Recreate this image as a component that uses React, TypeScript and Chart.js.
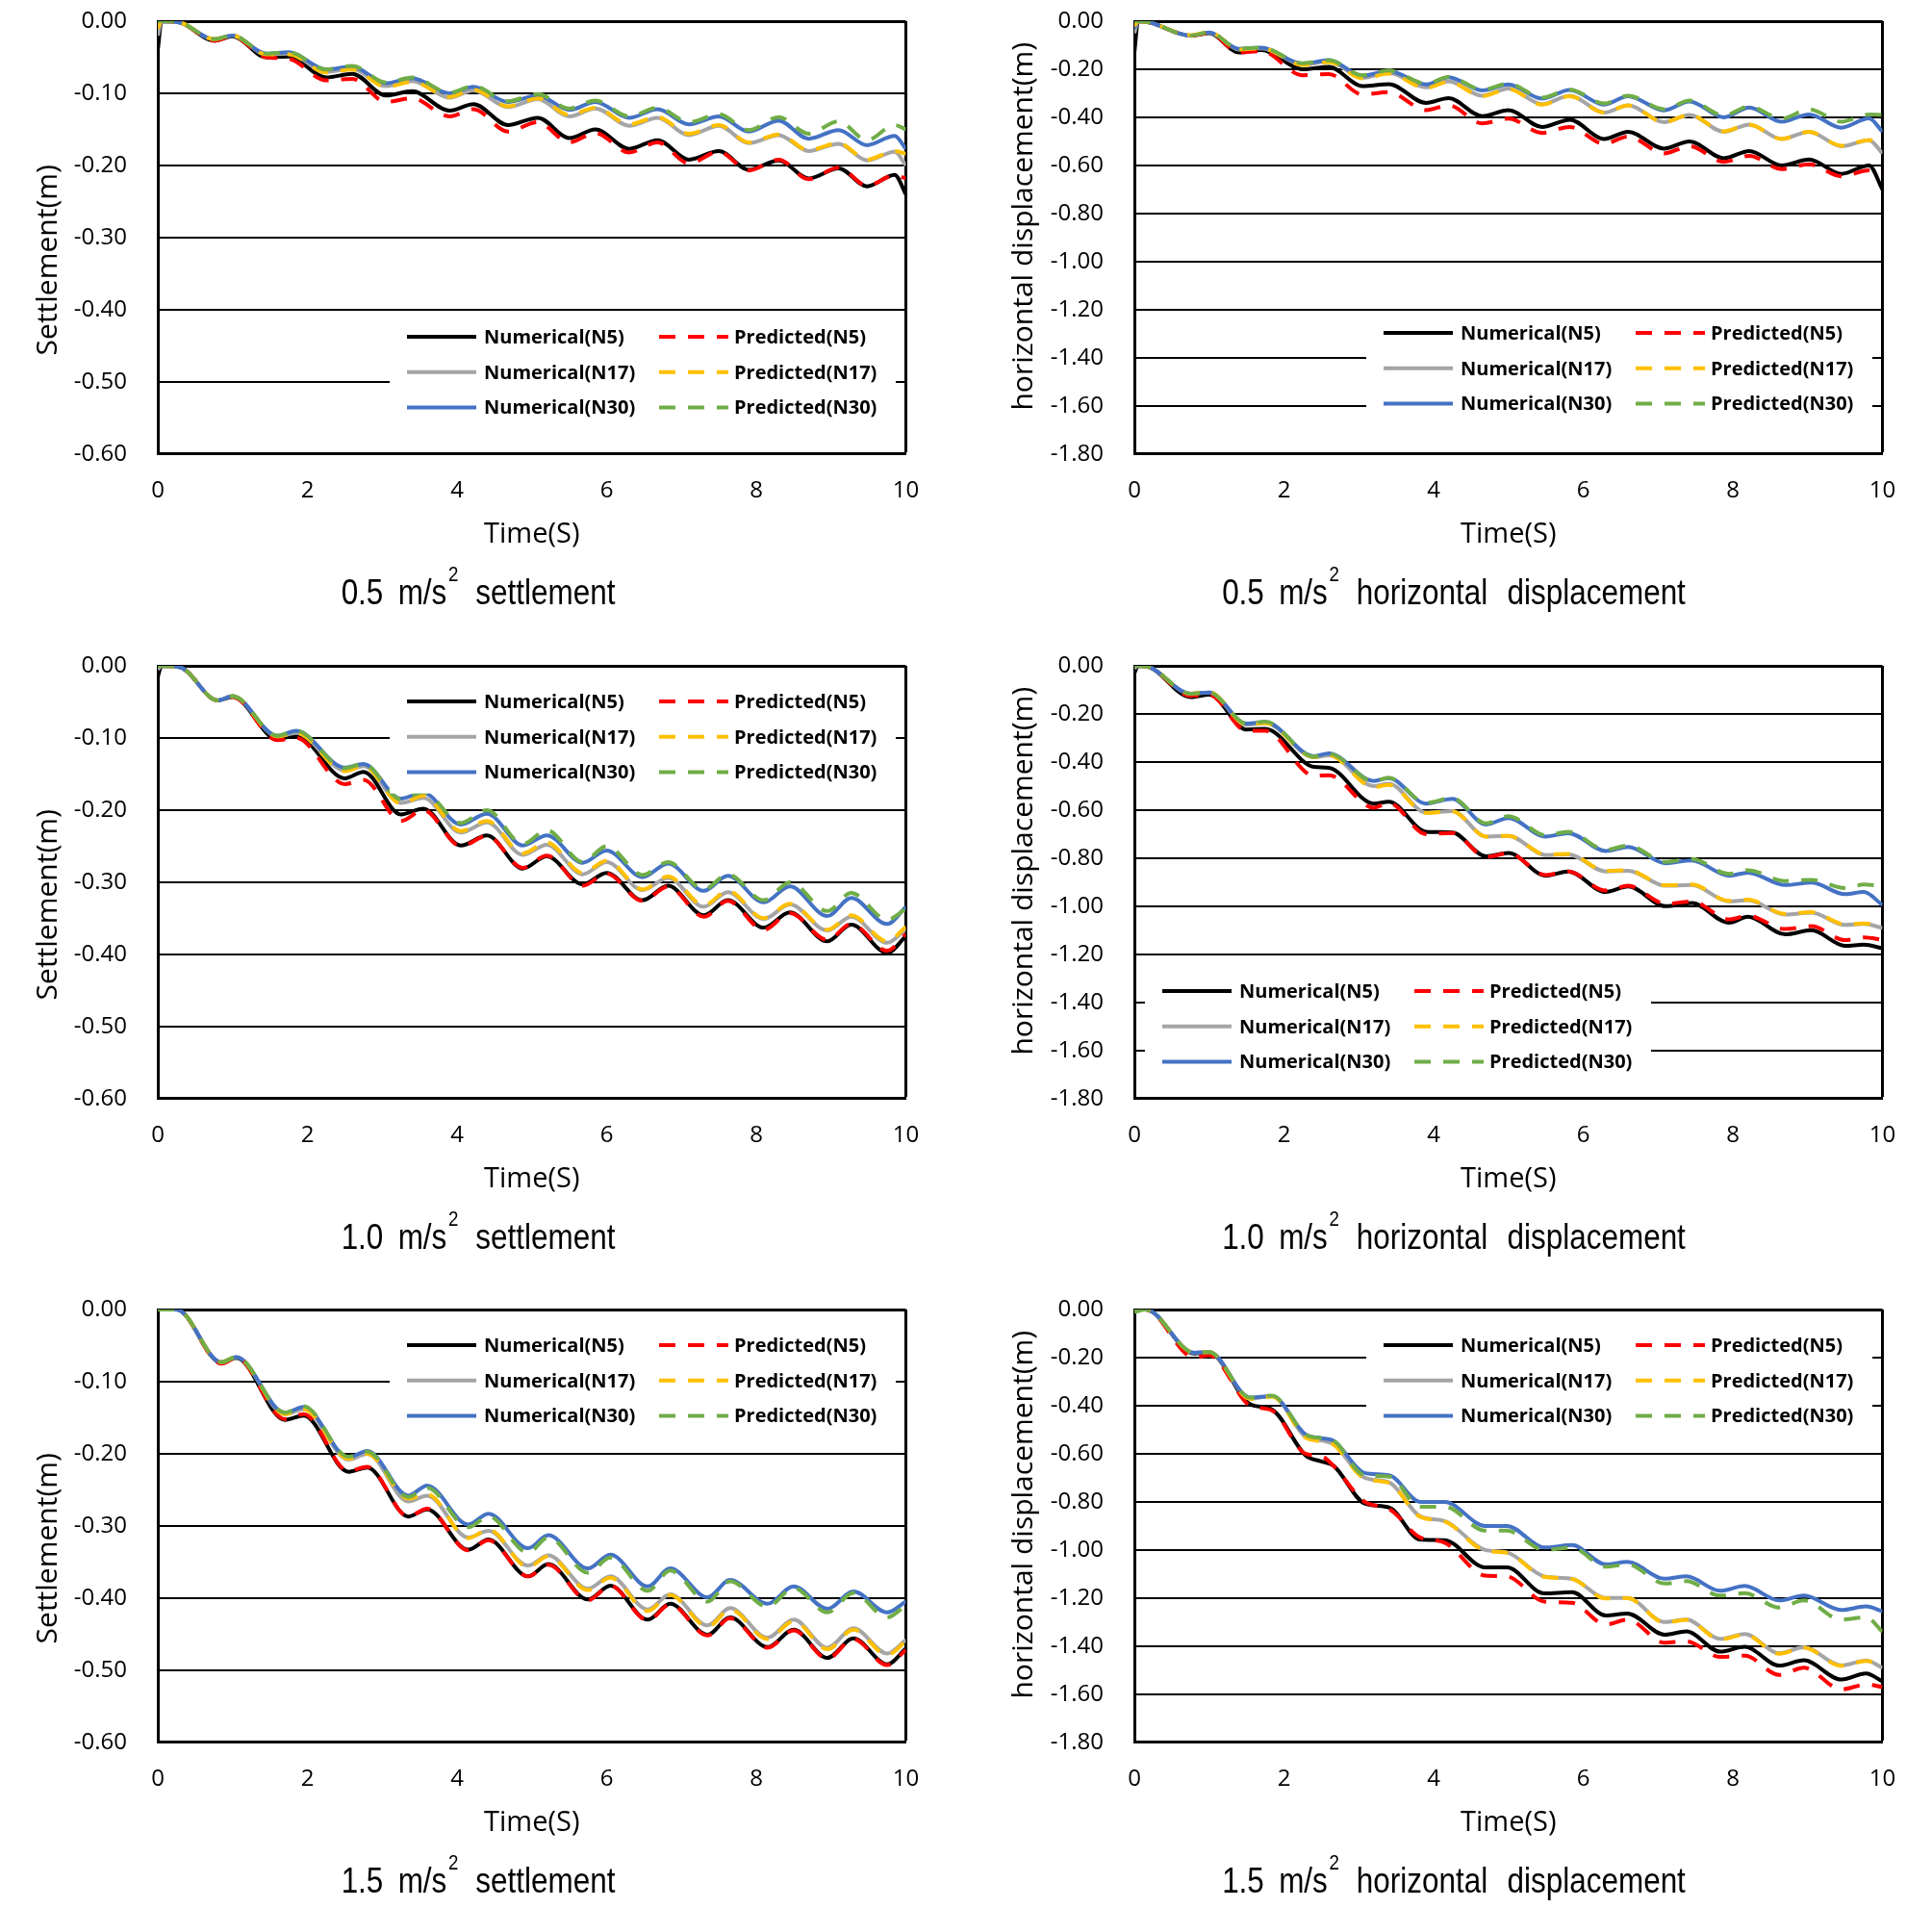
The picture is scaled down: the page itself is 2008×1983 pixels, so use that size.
import React, { useEffect, useRef } from 'react';
import { Chart, registerables } from 'chart.js';

Chart.register(...registerables);

// ---------------- DATA ----------------
// Panel 1 : 0.5 m/s2 settlement
const t1 = [0, 0.05, 0.3, 0.75, 1.0, 1.45, 1.75, 2.25, 2.6, 3.05, 3.4, 3.9, 4.22, 4.68, 5.08, 5.5, 5.85, 6.3, 6.68, 7.1, 7.5, 7.9, 8.3, 8.7, 9.1, 9.48, 9.85, 10];
const n5_1 = [-0.04, 0, -0.002, -0.027, -0.021, -0.05, -0.049, -0.078, -0.073, -0.103, -0.097, -0.124, -0.115, -0.144, -0.134, -0.162, -0.15, -0.177, -0.165, -0.192, -0.18, -0.206, -0.193, -0.218, -0.204, -0.229, -0.213, -0.24];
const n17_1 = [-0.02, 0, -0.002, -0.025, -0.02, -0.046, -0.045, -0.07, -0.066, -0.09, -0.083, -0.106, -0.096, -0.119, -0.108, -0.132, -0.121, -0.145, -0.134, -0.158, -0.145, -0.169, -0.158, -0.18, -0.17, -0.193, -0.181, -0.2];
const n30_1 = [-0.01, 0, -0.002, -0.025, -0.02, -0.045, -0.043, -0.067, -0.063, -0.086, -0.079, -0.1, -0.091, -0.112, -0.103, -0.123, -0.112, -0.134, -0.122, -0.143, -0.132, -0.153, -0.138, -0.163, -0.151, -0.172, -0.159, -0.177];
const p5_1 = [0, 0, -0.002, -0.027, -0.021, -0.05, -0.052, -0.082, -0.08, -0.112, -0.107, -0.132, -0.122, -0.153, -0.14, -0.168, -0.155, -0.182, -0.168, -0.197, -0.181, -0.207, -0.192, -0.219, -0.203, -0.228, -0.214, -0.218];
const p17_1 = [-0.01, 0, -0.002, -0.025, -0.02, -0.046, -0.046, -0.071, -0.067, -0.091, -0.084, -0.105, -0.095, -0.118, -0.107, -0.13, -0.12, -0.143, -0.133, -0.156, -0.144, -0.168, -0.157, -0.179, -0.169, -0.192, -0.18, -0.184];
const p30_1 = [0, 0, -0.002, -0.025, -0.02, -0.045, -0.043, -0.067, -0.062, -0.085, -0.078, -0.099, -0.09, -0.111, -0.101, -0.121, -0.11, -0.132, -0.12, -0.14, -0.129, -0.151, -0.133, -0.156, -0.139, -0.165, -0.144, -0.15];

// Panel 2 : 0.5 m/s2 horizontal displacement
const t2 = [0, 0.05, 0.2, 0.75, 1.0, 1.4, 1.7, 2.25, 2.6, 3.05, 3.4, 3.9, 4.2, 4.65, 5.0, 5.45, 5.82, 6.28, 6.6, 7.08, 7.42, 7.88, 8.22, 8.65, 9.02, 9.45, 9.82, 10];
const n5_2 = [-0.13, 0, -0.005, -0.06, -0.05, -0.13, -0.12, -0.2, -0.19, -0.27, -0.262, -0.34, -0.32, -0.395, -0.37, -0.44, -0.41, -0.49, -0.46, -0.53, -0.5, -0.57, -0.54, -0.6, -0.575, -0.635, -0.6, -0.7];
const n17_2 = [-0.05, 0, -0.005, -0.06, -0.048, -0.118, -0.113, -0.18, -0.168, -0.235, -0.215, -0.275, -0.25, -0.31, -0.28, -0.345, -0.31, -0.38, -0.35, -0.42, -0.39, -0.46, -0.43, -0.49, -0.46, -0.52, -0.495, -0.55];
const n30_2 = [-0.03, 0, -0.005, -0.06, -0.047, -0.115, -0.11, -0.177, -0.162, -0.227, -0.207, -0.263, -0.233, -0.288, -0.263, -0.322, -0.286, -0.347, -0.312, -0.371, -0.334, -0.4, -0.359, -0.418, -0.388, -0.443, -0.404, -0.46];
const p5_2 = [0, 0, -0.005, -0.06, -0.05, -0.13, -0.125, -0.225, -0.22, -0.305, -0.295, -0.37, -0.35, -0.425, -0.405, -0.465, -0.44, -0.51, -0.48, -0.55, -0.52, -0.585, -0.56, -0.615, -0.595, -0.645, -0.62, -0.62];
const p17_2 = [-0.02, 0, -0.005, -0.058, -0.045, -0.118, -0.113, -0.182, -0.17, -0.238, -0.218, -0.278, -0.252, -0.312, -0.282, -0.347, -0.312, -0.38, -0.35, -0.42, -0.39, -0.458, -0.43, -0.49, -0.46, -0.518, -0.495, -0.5];
const p30_2 = [0, 0, -0.005, -0.06, -0.047, -0.115, -0.11, -0.175, -0.162, -0.225, -0.205, -0.26, -0.232, -0.285, -0.26, -0.318, -0.285, -0.342, -0.31, -0.366, -0.33, -0.392, -0.355, -0.405, -0.367, -0.418, -0.388, -0.39];

// Panel 3 : 1.0 m/s2 settlement
const t3 = [0, 0.05, 0.3, 0.8, 1.0, 1.6, 1.85, 2.5, 2.75, 3.25, 3.55, 4.05, 4.4, 4.88, 5.2, 5.68, 6.0, 6.48, 6.82, 7.3, 7.62, 8.1, 8.45, 8.95, 9.27, 9.75, 10];
const n5_3 = [-0.015, 0, -0.002, -0.048, -0.043, -0.102, -0.096, -0.156, -0.147, -0.206, -0.198, -0.249, -0.235, -0.281, -0.264, -0.303, -0.287, -0.325, -0.305, -0.346, -0.325, -0.363, -0.342, -0.382, -0.359, -0.398, -0.375];
const n17_3 = [-0.005, 0, -0.002, -0.048, -0.042, -0.098, -0.093, -0.145, -0.139, -0.19, -0.183, -0.231, -0.217, -0.262, -0.248, -0.289, -0.272, -0.311, -0.294, -0.334, -0.314, -0.351, -0.331, -0.367, -0.348, -0.384, -0.365];
const n30_3 = [0, 0, -0.002, -0.048, -0.042, -0.097, -0.09, -0.141, -0.136, -0.184, -0.176, -0.22, -0.205, -0.249, -0.235, -0.273, -0.256, -0.293, -0.274, -0.312, -0.291, -0.328, -0.306, -0.347, -0.322, -0.358, -0.334];
const p5_3 = [0, 0, -0.002, -0.048, -0.043, -0.103, -0.1, -0.164, -0.158, -0.215, -0.2, -0.25, -0.236, -0.28, -0.263, -0.305, -0.288, -0.326, -0.306, -0.348, -0.326, -0.366, -0.343, -0.38, -0.358, -0.395, -0.372];
const p17_3 = [0, 0, -0.002, -0.048, -0.042, -0.098, -0.093, -0.146, -0.139, -0.191, -0.18, -0.229, -0.215, -0.26, -0.245, -0.287, -0.27, -0.31, -0.292, -0.332, -0.312, -0.35, -0.33, -0.366, -0.346, -0.382, -0.362];
const p30_3 = [0, 0, -0.002, -0.048, -0.042, -0.097, -0.09, -0.142, -0.136, -0.185, -0.175, -0.218, -0.2, -0.247, -0.228, -0.272, -0.25, -0.29, -0.272, -0.31, -0.289, -0.325, -0.3, -0.34, -0.315, -0.352, -0.337];

// Panel 4 : 1.0 m/s2 horizontal displacement
const t4 = [0, 0.05, 0.2, 0.75, 1.0, 1.5, 1.75, 2.4, 2.6, 3.2, 3.4, 3.9, 4.25, 4.7, 5.0, 5.5, 5.8, 6.3, 6.6, 7.1, 7.45, 7.95, 8.2, 8.7, 9.05, 9.5, 9.75, 10];
const n5_4 = [-0.03, 0, -0.005, -0.13, -0.12, -0.265, -0.262, -0.42, -0.424, -0.573, -0.565, -0.69, -0.693, -0.792, -0.778, -0.873, -0.855, -0.941, -0.918, -1.0, -0.987, -1.069, -1.044, -1.117, -1.1, -1.165, -1.16, -1.175];
const n17_4 = [-0.01, 0, -0.005, -0.116, -0.111, -0.245, -0.238, -0.38, -0.372, -0.5, -0.49, -0.61, -0.604, -0.71, -0.707, -0.787, -0.784, -0.855, -0.852, -0.915, -0.912, -0.98, -0.975, -1.035, -1.027, -1.078, -1.074, -1.09];
const n30_4 = [0, 0, -0.005, -0.116, -0.111, -0.24, -0.234, -0.376, -0.364, -0.479, -0.467, -0.573, -0.553, -0.66, -0.633, -0.71, -0.696, -0.77, -0.753, -0.821, -0.809, -0.873, -0.86, -0.912, -0.902, -0.95, -0.941, -0.995];
const p5_4 = [0, 0, -0.005, -0.125, -0.12, -0.27, -0.27, -0.457, -0.455, -0.59, -0.57, -0.7, -0.695, -0.795, -0.78, -0.87, -0.855, -0.935, -0.915, -0.99, -0.98, -1.055, -1.04, -1.095, -1.083, -1.141, -1.13, -1.14];
const p17_4 = [0, 0, -0.005, -0.116, -0.108, -0.245, -0.238, -0.38, -0.372, -0.505, -0.495, -0.612, -0.605, -0.71, -0.707, -0.785, -0.782, -0.853, -0.85, -0.913, -0.91, -0.978, -0.973, -1.032, -1.025, -1.075, -1.072, -1.08];
const p30_4 = [0, 0, -0.005, -0.116, -0.111, -0.24, -0.232, -0.378, -0.366, -0.48, -0.465, -0.57, -0.55, -0.655, -0.625, -0.705, -0.69, -0.765, -0.748, -0.815, -0.803, -0.865, -0.85, -0.895, -0.89, -0.925, -0.91, -0.915];

// Panel 5 : 1.5 m/s2 settlement
const t5 = [0, 0.25, 0.85, 1.05, 1.7, 1.95, 2.55, 2.8, 3.35, 3.6, 4.15, 4.42, 4.95, 5.22, 5.75, 6.05, 6.55, 6.85, 7.35, 7.65, 8.15, 8.5, 8.95, 9.3, 9.75, 10];
const n5_5 = [0, 0, -0.074, -0.067, -0.153, -0.147, -0.225, -0.219, -0.287, -0.277, -0.333, -0.319, -0.37, -0.353, -0.402, -0.383, -0.43, -0.408, -0.451, -0.427, -0.468, -0.444, -0.483, -0.456, -0.492, -0.47];
const n17_5 = [0, 0, -0.073, -0.066, -0.145, -0.138, -0.208, -0.2, -0.266, -0.258, -0.316, -0.307, -0.355, -0.341, -0.387, -0.37, -0.416, -0.395, -0.438, -0.414, -0.455, -0.43, -0.469, -0.442, -0.477, -0.458];
const n30_5 = [0, 0, -0.073, -0.066, -0.143, -0.135, -0.205, -0.196, -0.258, -0.244, -0.298, -0.283, -0.331, -0.313, -0.359, -0.34, -0.384, -0.359, -0.399, -0.375, -0.408, -0.384, -0.415, -0.391, -0.42, -0.405];
const p5_5 = [0, 0, -0.075, -0.067, -0.152, -0.145, -0.224, -0.218, -0.287, -0.276, -0.334, -0.32, -0.37, -0.354, -0.403, -0.383, -0.431, -0.409, -0.452, -0.428, -0.469, -0.445, -0.484, -0.457, -0.493, -0.472];
const p17_5 = [0, 0, -0.073, -0.066, -0.145, -0.138, -0.207, -0.2, -0.262, -0.256, -0.317, -0.305, -0.357, -0.342, -0.389, -0.372, -0.418, -0.396, -0.44, -0.416, -0.457, -0.432, -0.471, -0.444, -0.479, -0.46];
const p30_5 = [0, 0, -0.073, -0.066, -0.143, -0.134, -0.204, -0.197, -0.26, -0.247, -0.302, -0.287, -0.337, -0.316, -0.365, -0.344, -0.39, -0.362, -0.405, -0.377, -0.412, -0.386, -0.42, -0.393, -0.427, -0.41];

// Panel 6 : 1.5 m/s2 horizontal displacement
const t6 = [0, 0.15, 0.8, 1.0, 1.55, 1.84, 2.29, 2.5, 2.66, 3.08, 3.41, 3.82, 4.15, 4.69, 4.98, 5.48, 5.85, 6.3, 6.59, 7.09, 7.38, 7.83, 8.16, 8.62, 8.95, 9.45, 9.78, 10];
const n5_6 = [0, 0, -0.183, -0.18, -0.394, -0.416, -0.607, -0.632, -0.649, -0.807, -0.824, -0.957, -0.96, -1.073, -1.073, -1.181, -1.176, -1.273, -1.265, -1.353, -1.339, -1.423, -1.403, -1.481, -1.459, -1.539, -1.514, -1.547];
const n17_6 = [0, 0, -0.18, -0.177, -0.37, -0.36, -0.53, -0.545, -0.56, -0.7, -0.72, -0.86, -0.88, -1.0, -1.01, -1.11, -1.12, -1.2, -1.2, -1.3, -1.29, -1.37, -1.35, -1.43, -1.405, -1.48, -1.46, -1.49];
const n30_6 = [0, 0, -0.18, -0.177, -0.366, -0.36, -0.52, -0.535, -0.545, -0.68, -0.69, -0.8, -0.8, -0.9, -0.9, -0.99, -0.98, -1.06, -1.05, -1.12, -1.11, -1.17, -1.15, -1.21, -1.19, -1.25, -1.235, -1.255];
const p5_6 = [0, 0, -0.2, -0.19, -0.4, -0.42, -0.6, -0.61, -0.65, -0.8, -0.83, -0.948, -0.97, -1.107, -1.11, -1.215, -1.22, -1.31, -1.29, -1.386, -1.38, -1.445, -1.44, -1.52, -1.49, -1.58, -1.56, -1.57];
const p17_6 = [0, 0, -0.18, -0.177, -0.372, -0.362, -0.533, -0.548, -0.562, -0.703, -0.722, -0.862, -0.882, -1.003, -1.012, -1.112, -1.121, -1.202, -1.201, -1.302, -1.291, -1.372, -1.352, -1.432, -1.407, -1.482, -1.462, -1.48];
const p30_6 = [-0.01, 0, -0.18, -0.177, -0.366, -0.358, -0.52, -0.535, -0.545, -0.69, -0.695, -0.82, -0.82, -0.92, -0.92, -1.0, -0.99, -1.07, -1.06, -1.14, -1.13, -1.19, -1.18, -1.24, -1.21, -1.29, -1.28, -1.34];

const seriesLabels = ['Numerical(N5)', 'Numerical(N17)', 'Numerical(N30)', 'Predicted(N5)', 'Predicted(N17)', 'Predicted(N30)'];
const seriesColors = ['#000000', '#A5A5A5', '#4472C4', '#FF0000', '#FFC000', '#70AD47'];
const xTicks = [0, 2, 4, 6, 8, 10];

// ---------------- LAYOUT ----------------
const CANVAS_W = 975;
const CANVAS_H = 600;
const PLOT_W = 777.5;
const PLOT_H = 449.75;
const PAD_TOP = 22;
const X_AXIS_H = 101;
const colLeft = [0, 1014];
const colYW = [164, 165];
const rowTop = [0, 670, 1339];
const subCX = [497, 1511];
const subCY = [616, 1286, 1955];

type PanelDef = {
  times: number[];
  series: number[][];
  yMin: number;
  yStep: number;
  yTitle: string;
  col: number;
  row: number;
  legendDx: number;
  legendDy: number;
  accel: string;
  words: string[];
};

const panels: PanelDef[] = [
  { times: t1, series: [n5_1, n17_1, n30_1, p5_1, p17_1, p30_1], yMin: -0.6, yStep: 0.1, yTitle: 'Settlement(m)      ', col: 0, row: 0, legendDx: 259, legendDy: 328, accel: '0.5', words: ['settlement'] },
  { times: t2, series: [n5_2, n17_2, n30_2, p5_2, p17_2, p30_2], yMin: -1.8, yStep: 0.2, yTitle: '   horizontal displacement(m)', col: 1, row: 0, legendDx: 259, legendDy: 324, accel: '0.5', words: ['horizontal', 'displacement'] },
  { times: t3, series: [n5_3, n17_3, n30_3, p5_3, p17_3, p30_3], yMin: -0.6, yStep: 0.1, yTitle: 'Settlement(m)      ', col: 0, row: 1, legendDx: 259, legendDy: 37, accel: '1.0', words: ['settlement'] },
  { times: t4, series: [n5_4, n17_4, n30_4, p5_4, p17_4, p30_4], yMin: -1.8, yStep: 0.2, yTitle: '   horizontal displacement(m)', col: 1, row: 1, legendDx: 29, legendDy: 338, accel: '1.0', words: ['horizontal', 'displacement'] },
  { times: t5, series: [n5_5, n17_5, n30_5, p5_5, p17_5, p30_5], yMin: -0.6, yStep: 0.1, yTitle: 'Settlement(m)      ', col: 0, row: 2, legendDx: 259, legendDy: 37, accel: '1.5', words: ['settlement'] },
  { times: t6, series: [n5_6, n17_6, n30_6, p5_6, p17_6, p30_6], yMin: -1.8, yStep: 0.2, yTitle: '   horizontal displacement(m)', col: 1, row: 2, legendDx: 259, legendDy: 37, accel: '1.5', words: ['horizontal', 'displacement'] },
];

const DASH = [17, 13];

const boxLegend = {
  id: 'boxLegend',
  afterDatasetsDraw(chart: any, _args: any, opts: any) {
    const { ctx, chartArea } = chart;
    const x0 = chartArea.left + opts.dx;
    const y0 = chartArea.top + opts.dy;
    const gap = 36.8;
    ctx.save();
    ctx.fillStyle = '#ffffff';
    ctx.fillRect(x0 - 18, y0 - 22, 526, gap * 2 + 44);
    ctx.font = "bold 20px 'Open Sans', sans-serif";
    ctx.textBaseline = 'middle';
    ctx.textAlign = 'left';
    chart.data.datasets.forEach((ds: any, i: number) => {
      const col = i < 3 ? 0 : 1;
      const row = i % 3;
      const lx = x0 + col * 262;
      const y = y0 + row * gap;
      ctx.beginPath();
      ctx.setLineDash(col === 1 ? DASH : []);
      ctx.lineWidth = 4;
      ctx.lineCap = 'butt';
      ctx.strokeStyle = ds.borderColor;
      ctx.moveTo(lx, y);
      ctx.lineTo(lx + 72, y);
      ctx.stroke();
      ctx.setLineDash([]);
      ctx.fillStyle = '#000000';
      ctx.fillText(ds.label, lx + (col === 0 ? 80 : 78), y + 1);
    });
    ctx.restore();
  },
};

function PanelChart({ p }: { p: PanelDef }) {
  const ref = useRef<HTMLCanvasElement>(null);
  useEffect(() => {
    if (!ref.current) return;
    const yW = colYW[p.col];
    const datasets = p.series.map((vals, i) => ({
      label: seriesLabels[i],
      data: p.times.map((t, k) => ({ x: t, y: vals[k] })),
      borderColor: seriesColors[i],
      backgroundColor: seriesColors[i],
      borderWidth: 4,
      borderDash: i >= 3 ? DASH : [],
      cubicInterpolationMode: 'monotone' as const,
      pointRadius: 0,
      fill: false,
      order: 5 - i,
    }));
    const chart = new Chart(ref.current, {
      type: 'line',
      data: { datasets },
      plugins: [boxLegend],
      options: {
        responsive: false,
        animation: false,
        devicePixelRatio: 1,
        layout: {
          autoPadding: false,
          padding: {
            left: 0,
            top: PAD_TOP,
            right: CANVAS_W - yW - PLOT_W,
            bottom: CANVAS_H - PAD_TOP - PLOT_H - X_AXIS_H,
          },
        },
        plugins: {
          legend: { display: false },
          tooltip: { enabled: false },
          boxLegend: { dx: p.legendDx, dy: p.legendDy },
        } as any,
        scales: {
          x: {
            type: 'linear',
            min: 0,
            max: 10,
            afterBuildTicks: (s: any) => {
              s.ticks = xTicks.map((v) => ({ value: v }));
            },
            afterFit: (s: any) => {
              s.height = X_AXIS_H;
            },
            ticks: {
              padding: 2,
              color: '#000000',
              font: { size: 24 },
              callback: (v: any) => String(v),
            },
            grid: {
              drawTicks: true,
              tickLength: 22,
              tickColor: 'rgba(0,0,0,0)',
              color: (c: any) => (c.tick && c.tick.value === 10 ? '#000000' : 'rgba(0,0,0,0)'),
              lineWidth: (c: any) => (c.tick && c.tick.value === 10 ? 3 : 1),
            },
            border: { display: true, color: '#000000', width: 3 },
            title: {
              display: true,
              text: 'Time(S)',
              color: '#000000',
              font: { size: 29 },
              padding: 0,
            },
          },
          y: {
            type: 'linear',
            min: p.yMin,
            max: 0,
            afterFit: (s: any) => {
              s.width = yW;
            },
            ticks: {
              stepSize: p.yStep,
              padding: 2,
              color: '#000000',
              font: { size: 24 },
              callback: (v: any) => Number(v).toFixed(2),
            },
            grid: {
              drawTicks: true,
              tickLength: 30,
              tickColor: 'rgba(0,0,0,0)',
              color: '#000000',
              lineWidth: (c: any) => (c.tick && Math.abs(c.tick.value) < 1e-9 ? 3 : 2),
            },
            border: { display: true, color: '#000000', width: 3 },
            title: {
              display: true,
              text: p.yTitle,
              color: '#000000',
              font: { size: 30 },
              padding: { top: 32, bottom: 0 },
            },
          },
        },
      } as any,
    });
    return () => chart.destroy();
  }, [p]);
  return (
    <canvas
      ref={ref}
      width={CANVAS_W}
      height={CANVAS_H}
      style={{ position: 'absolute', left: colLeft[p.col], top: rowTop[p.row], width: CANVAS_W, height: CANVAS_H }}
    />
  );
}

function Subtitle({ p }: { p: PanelDef }) {
  const cx = subCX[p.col];
  const cy = subCY[p.row];
  return (
    <div
      style={{
        position: 'absolute',
        left: cx - 400,
        top: cy - 20,
        width: 800,
        textAlign: 'center',
        fontFamily: "'Liberation Sans', Arial, sans-serif",
        fontSize: 37,
        lineHeight: '40px',
        color: '#000000',
        whiteSpace: 'nowrap',
        transform: 'scaleX(0.85)',
        transformOrigin: '50% 50%',
      }}
    >
      <span>{p.accel}</span>
      <span style={{ marginLeft: 18 }}>m/s</span>
      <span style={{ fontSize: 22, position: 'relative', top: -24, marginLeft: 2 }}>2</span>
      {p.words.map((w, i) => (
        <span key={i} style={{ marginLeft: i === 0 ? 21 : 24 }}>
          {w}
        </span>
      ))}
    </div>
  );
}

Chart.defaults.font.family = "'Open Sans', sans-serif";
Chart.defaults.color = '#000000';

export default function App() {
  return (
    <div style={{ position: 'absolute', left: 0, top: 0, width: 2008, height: 1983, background: '#ffffff', overflow: 'hidden' }}>
      {panels.map((p, i) => (
        <PanelChart key={i} p={p} />
      ))}
      {panels.map((p, i) => (
        <Subtitle key={'s' + i} p={p} />
      ))}
    </div>
  );
}
